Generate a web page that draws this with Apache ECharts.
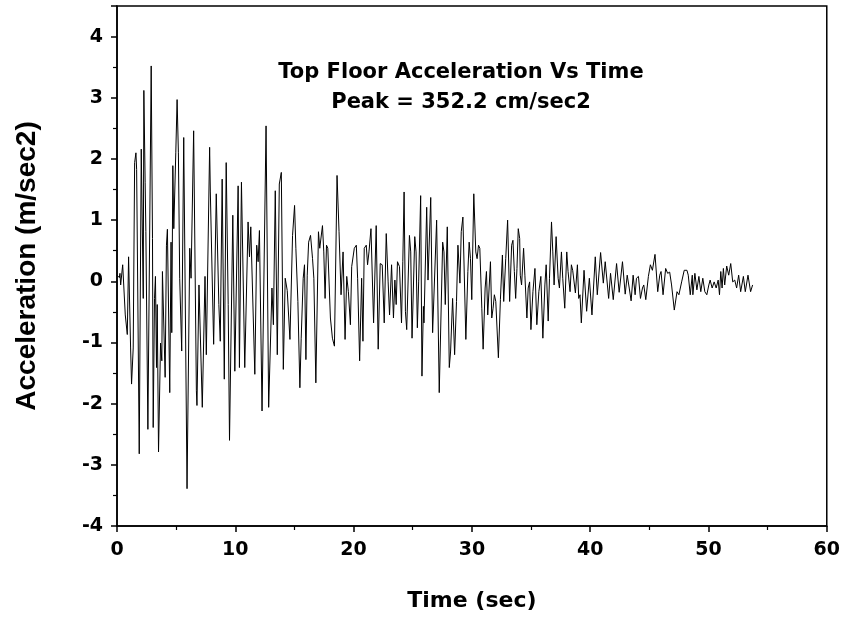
<!DOCTYPE html>
<html><head><meta charset="utf-8">
<script src="https://cdn.jsdelivr.net/npm/echarts@6/dist/echarts.min.js"></script>
<style>html,body{margin:0;padding:0;background:#fff}#c{width:843px;height:617px}</style>
</head><body><div id="c"></div>
<script>
const timeSec = [0,0.08,0.2,0.25,0.31,0.48,0.70,0.87,0.98,1.15,1.23,1.37,1.49,1.60,1.66,1.88,2.05,2.22,2.27,2.38,2.44,2.61,2.89,3.00,3.06,3.17,3.25,3.34,3.40,3.51,3.68,3.79,3.84,4.07,4.18,4.26,4.46,4.57,4.63,4.72,4.80,4.97,5.08,5.19,5.30,5.47,5.64,5.92,6.15,6.26,6.48,6.71,6.76,6.93,7.04,7.21,7.44,7.55,7.83,7.89,8.17,8.39,8.61,8.73,8.89,9.07,9.23,9.40,9.51,9.79,9.96,10.24,10.35,10.52,10.80,11.08,11.20,11.31,11.65,11.81,11.93,12.04,12.26,12.60,12.82,13.10,13.22,13.38,13.55,13.72,13.89,14.06,14.22,14.39,14.62,14.84,15.01,15.12,15.29,15.46,15.57,15.74,15.85,15.97,16.08,16.20,16.36,16.53,16.64,16.81,17.03,17.14,17.37,17.48,17.59,17.71,17.82,18.04,18.21,18.38,18.60,18.77,18.94,19.11,19.28,19.42,19.56,19.73,19.84,20.06,20.23,20.34,20.51,20.68,20.79,20.90,21.07,21.18,21.30,21.47,21.69,21.91,22.08,22.25,22.42,22.59,22.76,22.92,23.04,23.21,23.37,23.49,23.60,23.71,23.88,24.05,24.16,24.27,24.38,24.49,24.72,24.83,24.94,25.17,25.28,25.39,25.50,25.67,25.78,25.90,25.95,26.18,26.29,26.52,26.68,27.02,27.24,27.53,27.64,27.75,27.92,28.09,28.20,28.37,28.54,28.70,28.82,28.99,29.10,29.24,29.49,29.66,29.77,29.88,29.99,30.16,30.33,30.44,30.56,30.67,30.84,30.95,31.12,31.23,31.34,31.46,31.57,31.68,31.79,31.90,32.02,32.13,32.24,32.41,32.58,32.69,32.86,33.02,33.19,33.36,33.47,33.59,33.70,33.81,33.92,34.04,34.09,34.20,34.37,34.48,34.65,34.76,34.88,34.99,35.16,35.33,35.49,35.66,35.83,36.00,36.17,36.28,36.45,36.56,36.73,36.84,36.95,37.12,37.29,37.40,37.57,37.68,37.85,38.02,38.13,38.30,38.41,38.52,38.64,38.75,38.92,39.03,39.14,39.25,39.48,39.70,39.93,40.15,40.43,40.60,40.88,41.11,41.27,41.56,41.72,41.95,42.23,42.45,42.73,42.96,43.13,43.30,43.46,43.63,43.80,43.91,44.08,44.25,44.42,44.53,44.70,44.92,45.09,45.26,45.48,45.71,45.88,45.99,46.16,46.38,46.55,46.72,46.88,47.11,47.34,47.50,47.73,47.95,48.18,48.29,48.46,48.63,48.68,48.85,49.02,49.19,49.35,49.52,49.69,49.86,50.03,50.14,50.31,50.48,50.65,50.82,50.93,51.04,51.15,51.26,51.37,51.54,51.71,51.88,52.05,52.22,52.38,52.55,52.72,52.95,53.11,53.34,53.56,53.73];
const accel = [0.10,0.13,0.06,0.13,-0.06,0.27,-0.55,-0.87,0.40,-1.09,-1.68,-1.09,1.94,2.10,1.83,-2.82,2.16,-0.28,3.12,1.62,0.81,-2.42,3.52,0.70,-2.39,-0.28,0.08,-1.41,-0.38,-2.79,-1.01,-1.30,0.16,-1.57,0.59,0.85,-1.82,0.64,-0.84,1.89,0.86,2.10,2.97,2.10,0.05,-1.14,2.35,-3.39,0.54,0.05,2.46,-1.79,-2.03,-0.06,-0.03,-2.06,0.08,-1.20,2.19,1.46,-1.03,1.43,-0.38,-0.98,1.67,-1.60,1.94,-0.38,-2.60,1.08,-1.47,1.56,-1.41,1.62,-1.41,0.97,0.40,0.89,-1.52,0.59,0.32,0.83,-2.12,2.54,-2.06,-0.11,-0.71,1.48,-1.20,1.59,1.78,-1.44,0.05,-0.15,-0.95,0.75,1.24,0.54,-0.33,-1.74,-0.93,0.05,0.27,-1.28,0.10,0.64,0.75,0.37,0.05,-1.66,0.81,0.54,0.91,0.48,-0.28,0.59,0.54,-0.60,-0.93,-1.06,1.73,0.81,-0.22,0.48,-0.95,0.08,-0.17,-0.71,0.24,0.54,0.59,0.05,-1.30,0.05,-0.98,0.54,0.59,0.27,0.48,0.86,-0.68,0.91,-1.11,0.29,0.27,-0.68,0.78,-0.01,-0.55,0.27,-0.60,0.02,-0.38,0.32,0.24,-0.68,0.32,1.46,-0.49,-0.79,0.75,0.48,-0.93,0.73,0.48,-0.76,-0.01,1.40,-1.55,-0.41,-0.68,1.21,0.02,1.37,-0.84,1.00,-1.82,0.64,0.48,-0.38,0.89,-1.41,-1.14,-0.28,-1.20,-0.33,0.59,-0.03,0.81,1.05,-0.95,0.16,0.64,0.37,-0.30,1.43,0.48,0.37,0.59,0.54,-0.44,-1.11,-0.11,0.16,-0.55,-0.57,0.32,-0.60,-0.44,-0.22,-0.33,-0.30,-1.25,-0.30,0.43,-0.33,0.37,1.00,-0.33,0.59,0.67,0.16,-0.28,0.21,0.86,0.70,0.10,-0.06,0.54,0.10,-0.60,-0.11,-0.01,-0.79,-0.17,0.21,-0.71,-0.17,0.08,-0.93,-0.06,0.27,-0.65,0.05,0.97,0.48,-0.06,0.73,0.05,-0.11,0.48,0.05,-0.44,0.48,0.16,-0.17,0.27,0.18,0.16,-0.19,0.27,-0.28,-0.22,-0.68,0.18,-0.49,0.05,-0.55,0.40,-0.22,0.47,-0.03,0.32,-0.28,0.13,-0.30,0.29,-0.18,0.32,-0.21,0.10,-0.11,-0.32,0.10,-0.22,0.05,0.08,-0.28,-0.11,-0.06,-0.30,0.08,0.27,0.18,0.44,-0.17,0.10,0.16,-0.22,0.21,0.13,0.15,-0.06,-0.47,-0.17,-0.22,-0.01,0.18,0.18,0.10,-0.22,0.10,-0.22,0.13,-0.14,0.08,-0.17,0.05,-0.17,-0.22,-0.06,0.02,-0.11,-0.01,-0.11,0.02,-0.22,0.16,-0.11,0.21,-0.06,0.25,0.10,0.29,-0.01,0.02,-0.11,0.10,-0.17,0.08,-0.17,0.10,-0.17,-0.06];
const titleLines = ['Top Floor Acceleration Vs Time', 'Peak = 352.2 cm/sec2'];
const xName = 'Time (sec)';
const yName = 'Acceleration (m/sec2)';

const seriesData = timeSec.map((t, i) => [t, accel[i]]);
const chart = echarts.init(document.getElementById('c'));
const wide = {fontFamily: 'DejaVu Sans, sans-serif', fontWeight: 'bold', color: '#000'};
const arial = {fontFamily: 'Liberation Sans, Arial, sans-serif', fontWeight: 'bold', color: '#000'};
chart.setOption({
  animation: false,
  backgroundColor: '#fff',
  title: [
    {text: titleLines[0], left: 456, top: 57, textAlign: 'center', textStyle: Object.assign({fontSize: 21}, wide)},
    {text: titleLines[1], left: 456, top: 87, textAlign: 'center', textStyle: Object.assign({fontSize: 21}, wide)}
  ],
  grid: {left: 117, right: 13, top: 6, bottom: 87, show: true, borderColor: '#000', borderWidth: 1.5, backgroundColor: 'transparent'},
  xAxis: {
    type: 'value', min: 0, max: 60, interval: 10,
    name: xName, nameLocation: 'middle', nameGap: 64,
    nameTextStyle: Object.assign({fontSize: 22}, wide),
    axisLine: {show: true, onZero: false, lineStyle: {color: '#000', width: 1.5}},
    axisTick: {show: true, inside: false, length: 6, lineStyle: {color: '#000', width: 1.5}},
    minorTick: {show: true, splitNumber: 2, length: 4, lineStyle: {color: '#000', width: 1.2}},
    axisLabel: Object.assign({fontSize: 19, margin: 15}, wide),
    splitLine: {show: false}
  },
  yAxis: {
    type: 'value', min: -4, max: 4.5, interval: 1,
    name: yName, nameLocation: 'middle', nameGap: 76, nameRotate: 90,
    nameTextStyle: Object.assign({fontSize: 28}, arial),
    axisLine: {show: true, onZero: false, lineStyle: {color: '#000', width: 1.5}},
    axisTick: {show: true, inside: false, length: 6, lineStyle: {color: '#000', width: 1.5}},
    minorTick: {show: true, splitNumber: 2, length: 4, lineStyle: {color: '#000', width: 1.2}},
    axisLabel: Object.assign({fontSize: 19, margin: 14, showMaxLabel: false}, wide),
    splitLine: {show: false}
  },
  series: [{
    type: 'line', data: seriesData, showSymbol: false, symbol: 'none',
    lineStyle: {color: '#000', width: 1}, smooth: false
  }]
});
</script></body></html>
